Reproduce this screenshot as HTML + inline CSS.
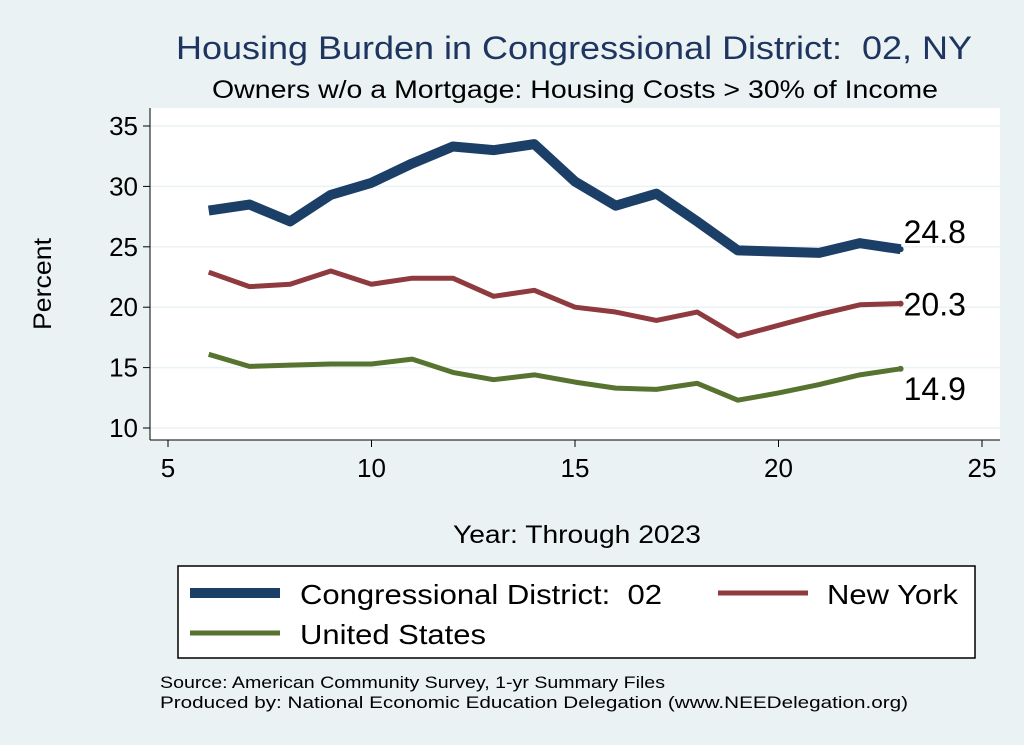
<!DOCTYPE html>
<html><head><meta charset="utf-8"><style>
body{margin:0;background:#eaf2f3;}
svg{display:block;font-family:"Liberation Sans",Arial,sans-serif;}
</style></head><body>
<svg id="chart" width="1024" height="745">
<rect x="0" y="0" width="1024" height="745" fill="#eaf2f3"/>
<text x="176" y="59" font-size="32" fill="#1e3560" textLength="796" lengthAdjust="spacingAndGlyphs" xml:space="preserve">Housing Burden in Congressional District:  02, NY</text>
<text x="212" y="98" font-size="25" fill="#000" textLength="726" lengthAdjust="spacingAndGlyphs">Owners w/o a Mortgage: Housing Costs &gt; 30% of Income</text>
<rect x="150" y="108" width="850" height="332" fill="#fff"/>
<g id="grid"></g><g id="axes"></g><g id="series"></g>
<text x="51" y="330" font-size="25" textLength="92" lengthAdjust="spacingAndGlyphs" transform="rotate(-90 51 330)">Percent</text>
<text x="453" y="543" font-size="25" textLength="248" lengthAdjust="spacingAndGlyphs">Year: Through 2023</text>
<g>
<rect x="178" y="566" width="797" height="92" fill="#fff" stroke="#000" stroke-width="1.5"/>
<line x1="190" y1="593" x2="280" y2="593" stroke="#1b3f66" stroke-width="10"/>
<text x="300" y="604" font-size="28" textLength="362" lengthAdjust="spacingAndGlyphs" xml:space="preserve">Congressional District:  02</text>
<line x1="718" y1="593" x2="808" y2="593" stroke="#8e3a3f" stroke-width="5"/>
<text x="827" y="604" font-size="28" textLength="131" lengthAdjust="spacingAndGlyphs">New York</text>
<line x1="190" y1="633" x2="280" y2="633" stroke="#56732f" stroke-width="5"/>
<text x="300" y="644" font-size="28" textLength="186" lengthAdjust="spacingAndGlyphs">United States</text>
</g>
<text x="160" y="688" font-size="17" textLength="505" lengthAdjust="spacingAndGlyphs">Source: American Community Survey, 1-yr Summary Files</text>
<text x="160" y="708" font-size="17" textLength="748" lengthAdjust="spacingAndGlyphs">Produced by: National Economic Education Delegation (www.NEEDelegation.org)</text>
</svg>
<script>
const years=[6,7,8,9,10,11,12,13,14,15,16,17,18,19,20,21,22,23];
const districtVals=[28.0,28.5,27.1,29.3,30.3,31.9,33.3,33.0,33.5,30.4,28.4,29.4,27.1,24.7,24.6,24.5,25.3,24.8];
const nyVals=[22.9,21.7,21.9,23.0,21.9,22.4,22.4,20.9,21.4,20.0,19.6,18.9,19.6,17.6,18.5,19.4,20.2,20.3];
const usVals=[16.1,15.1,15.2,15.3,15.3,15.7,14.6,14.0,14.4,13.8,13.3,13.2,13.7,12.3,12.9,13.6,14.4,14.9];
const xTicks=[5,10,15,20,25];
const yTicks=[10,15,20,25,30,35];
const ns="http://www.w3.org/2000/svg";
const X=v=>168+(v-5)*40.7;
const Y=v=>428-(v-10)*12.08;
function mk(t,a,p){const e=document.createElementNS(ns,t);for(const k in a)e.setAttribute(k,a[k]);p.appendChild(e);return e;}
const grid=document.getElementById('grid'),axes=document.getElementById('axes'),ser=document.getElementById('series');
yTicks.forEach(v=>{
 const g=mk('line',{x1:150,x2:1000,y1:Y(v),y2:Y(v),stroke:'#eaf2f3','stroke-width':1.5},grid);
 
 
 mk('line',{x1:143,x2:150,y1:Y(v),y2:Y(v),stroke:'#000'},axes);
 const t=mk('text',{x:138,y:Y(v)+9,'font-size':26,'text-anchor':'end'},axes);t.textContent=v;
 
 
});
mk('line',{x1:150,x2:150,y1:108,y2:440,stroke:'#000'},axes);
mk('line',{x1:150,x2:1000,y1:440,y2:440,stroke:'#000'},axes);
xTicks.forEach(v=>{
 mk('line',{x1:X(v),x2:X(v),y1:440,y2:447,stroke:'#000'},axes);
 const t=mk('text',{x:X(v),y:477,'font-size':26,'text-anchor':'middle'},axes);t.textContent=v;
 
 
});
function line(vals,col,w,name,lab){
 const p=mk('polyline',{points:years.map((y,i)=>X(y)+','+Y(vals[i])).join(' '),fill:'none',stroke:col,'stroke-width':w,'stroke-linejoin':'round'},ser);
 
 
 const n=vals.length-1;
 mk('circle',{cx:X(years[n]),cy:Y(vals[n]),r:3,fill:col},ser);
 const t=mk('text',{x:X(years[n])+3,y:Y(vals[n])+Number(lab),'font-size':32},ser);t.textContent=vals[n].toFixed(1);
 
 
}
line(usVals,'#56732f',5,'us-line',31);
line(nyVals,'#8e3a3f',5,'ny-line',12);
line(districtVals,'#1b3f66',10,'district-line',-6);
</script>
</body></html>
